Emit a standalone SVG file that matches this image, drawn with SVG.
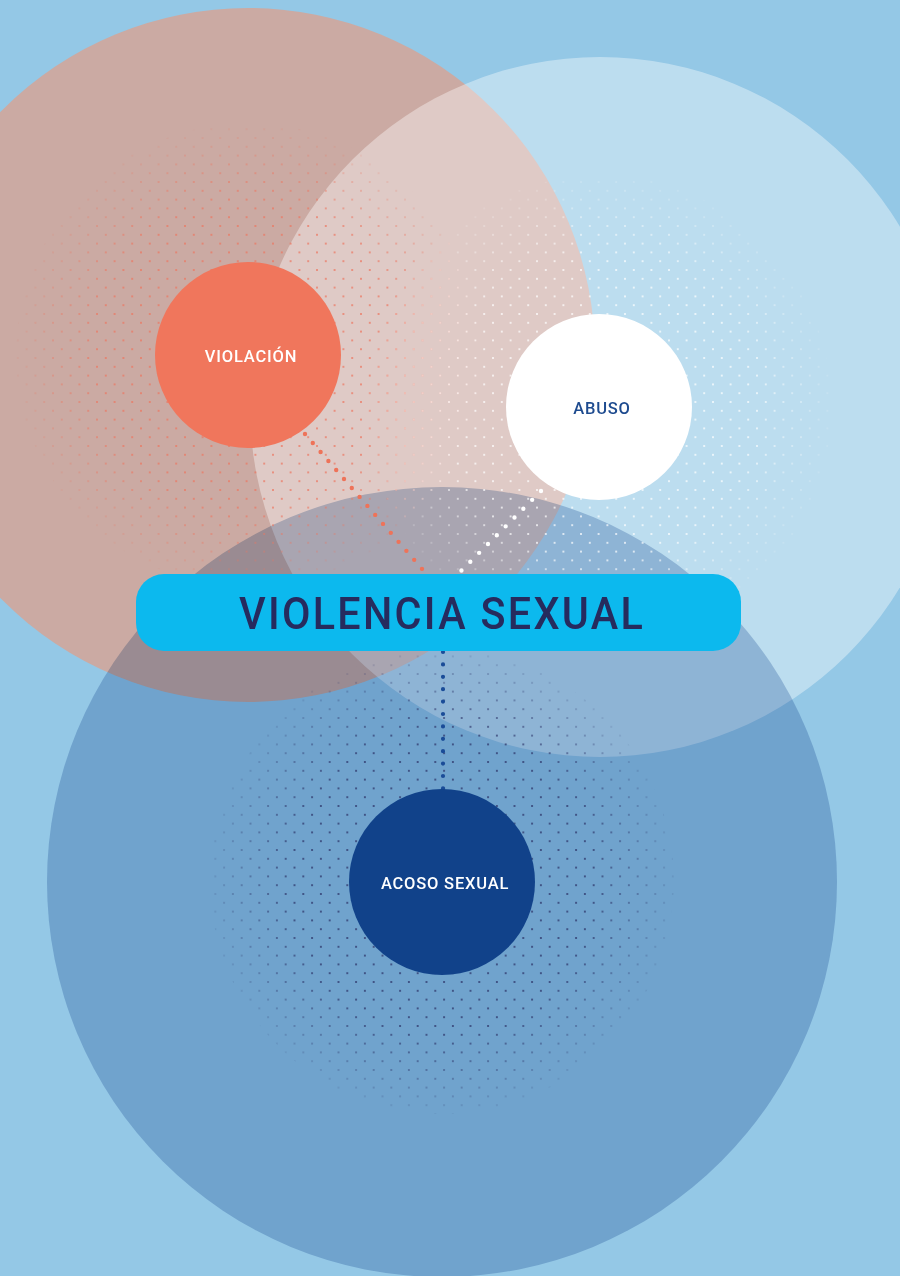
<svg xmlns="http://www.w3.org/2000/svg" width="900" height="1276" viewBox="0 0 900 1276">
<style>
.lbl{font-family:Roboto,"DejaVu Sans",sans-serif;font-weight:500;font-size:16.5px;text-anchor:middle;letter-spacing:0.8px}
.title{font-family:Roboto,"DejaVu Sans",sans-serif;font-weight:500;font-size:45px;text-anchor:middle;fill:#262B5E;letter-spacing:2.5px}
.conn{fill:none;stroke-linecap:round}
.dp{fill:#EC7660}
.dw{fill:#FFFFFF}
.db{fill:#2F386C}
</style>
<defs>
<pattern id="pPink" patternUnits="userSpaceOnUse" x="0.2" y="6" width="17.6" height="17.6"><circle class="dp" cx="0" cy="0" r="0.9"/><circle class="dp" cx="17.6" cy="0" r="0.9"/><circle class="dp" cx="0" cy="17.6" r="0.9"/><circle class="dp" cx="17.6" cy="17.6" r="0.9"/><circle class="dp" cx="8.8" cy="8.8" r="0.9"/></pattern>
<pattern id="pWhite" patternUnits="userSpaceOnUse" x="0.2" y="6" width="17.6" height="17.6"><circle class="dw" cx="0" cy="0" r="0.9"/><circle class="dw" cx="17.6" cy="0" r="0.9"/><circle class="dw" cx="0" cy="17.6" r="0.9"/><circle class="dw" cx="17.6" cy="17.6" r="0.9"/><circle class="dw" cx="8.8" cy="8.8" r="0.9"/></pattern>
<pattern id="pBlue" patternUnits="userSpaceOnUse" x="12.9" y="5.2" width="17.6" height="17.6"><circle class="db" cx="0" cy="0" r="0.95"/><circle class="db" cx="17.6" cy="0" r="0.95"/><circle class="db" cx="0" cy="17.6" r="0.95"/><circle class="db" cx="17.6" cy="17.6" r="0.95"/><circle class="db" cx="8.8" cy="8.8" r="0.95"/></pattern>
<radialGradient id="fade">
<stop offset="0" stop-color="#fff" stop-opacity="1"/>
<stop offset="0.65" stop-color="#fff" stop-opacity="1"/>
<stop offset="1" stop-color="#fff" stop-opacity="0.15"/>
</radialGradient>
<mask id="mPink" maskUnits="userSpaceOnUse" x="0" y="0" width="900" height="1276"><circle cx="248" cy="355" r="232" fill="url(#fade)"/></mask>
<mask id="mWhite" maskUnits="userSpaceOnUse" x="0" y="0" width="900" height="1276"><circle cx="600" cy="407" r="232" fill="url(#fade)"/></mask>
<mask id="mBlue" maskUnits="userSpaceOnUse" x="0" y="0" width="900" height="1276"><circle cx="442" cy="882" r="232" fill="url(#fade)"/></mask>
</defs>
<rect id="background" x="0" y="0" width="900" height="1276" fill="#94C8E6"/>
<g id="big-circles">
<circle id="circle-pink" cx="248" cy="355" r="347" fill="#CBAAA3"/>
<circle id="circle-light" cx="600" cy="407" r="350" fill="#FFFFFF" fill-opacity="0.38"/>
<circle id="circle-blue" cx="442" cy="882" r="395" fill="#C1D0E4" style="mix-blend-mode:multiply"/>
</g>
<g id="halftones">
<circle cx="248" cy="355" r="232" fill="url(#pPink)" mask="url(#mPink)"/>
<circle cx="600" cy="407" r="232" fill="url(#pWhite)" mask="url(#mWhite)"/>
<circle cx="442" cy="882" r="232" fill="url(#pBlue)" mask="url(#mBlue)"/>
</g>
<g id="connectors">
<line class="conn" x1="305" y1="434" x2="423" y2="570" stroke="#EE7359" stroke-width="4.4" stroke-dasharray="0 11.9"/>
<line class="conn" x1="541" y1="491" x2="461" y2="571" stroke="#FFFFFF" stroke-width="4.4" stroke-dasharray="0 12.5"/>
<line class="conn" x1="443" y1="652" x2="443" y2="790" stroke="#1A4C98" stroke-width="4.2" stroke-dasharray="0 12.4"/>
</g>
<g id="node-violacion">
<circle cx="248" cy="355" r="93" fill="#F0765C"/>
<text class="lbl" x="251" y="362" fill="#FFFFFF">VIOLACIÓN</text>
</g>
<g id="node-abuso">
<circle cx="599" cy="407" r="93" fill="#FFFFFF"/>
<text class="lbl" x="602" y="414" fill="#1E4B8F">ABUSO</text>
</g>
<g id="node-acoso">
<circle cx="442" cy="882" r="93" fill="#11428A"/>
<text class="lbl" x="445" y="889" fill="#FFFFFF">ACOSO SEXUAL</text>
</g>
<g id="node-violencia">
<rect x="136" y="574" width="605" height="77" rx="28" ry="28" fill="#0CB9EE"/>
<text class="title" x="442" y="629" textLength="406" lengthAdjust="spacingAndGlyphs">VIOLENCIA SEXUAL</text>
</g>
</svg>
